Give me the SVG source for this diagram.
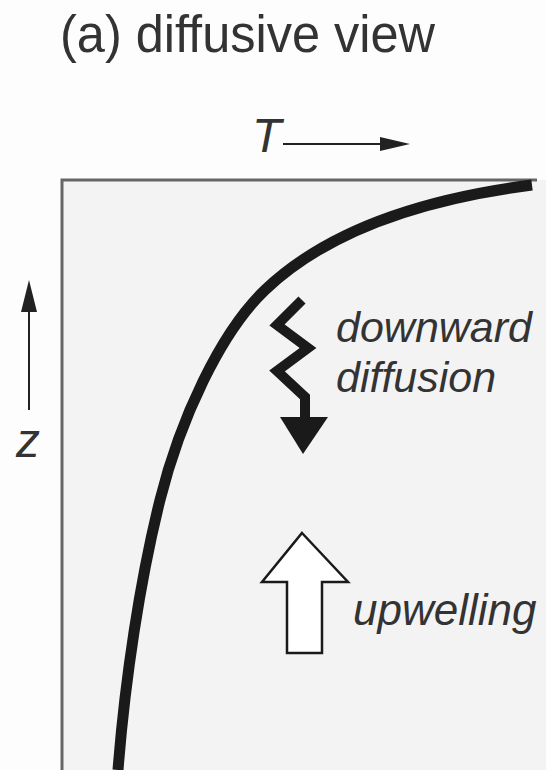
<svg xmlns="http://www.w3.org/2000/svg" width="546" height="770" viewBox="0 0 546 770">
<style>
.lbl{font-family:"Liberation Sans",Arial,sans-serif;fill:#333;}
.it{font-style:italic;}
.frame{stroke:#666;stroke-width:3;fill:none;}
</style>
<rect width="546" height="770" fill="#fdfdfd"/>
<g id="frame">
<rect x="62" y="180" width="490" height="600" fill="#f3f3f3"/>
<path class="frame" d="M62,780 L62,180 L537,180"/>
</g>
<g id="title"><text class="lbl" x="60" y="52" font-size="51" fill="#444" textLength="375" lengthAdjust="spacingAndGlyphs">(a) diffusive view</text></g>
<g id="axis-T">
<text class="lbl it" x="252" y="152" font-size="48">T</text>
</g>
<g id="axis-z">
<text class="lbl it" x="16" y="457" font-size="48">z</text>
</g>
<g id="profile">
<path d="M532,185 C430,198 330,228 265,290 C220,333 180,420 160,500 C140,580 125,680 118,770" fill="none" stroke="#1a1a1a" stroke-width="11"/>
</g>
<g id="diffusion">
<polyline points="302,300 277,325 308,348 277,371 305,397 305,420" fill="none" stroke="#1a1a1a" stroke-width="10" stroke-linejoin="miter"/>
<polygon points="280,417 328,417 303,454" fill="#1a1a1a"/>
<text class="lbl it" x="336" y="342" font-size="43">downward</text>
<text class="lbl it" x="336" y="392" font-size="43">diffusion</text>
</g>
<g id="upwelling">
<polygon points="302,533 348,582 322,582 322,653 287,653 287,582 262,582" fill="#ffffff" stroke="#1a1a1a" stroke-width="2.5" stroke-linejoin="miter"/>
<text class="lbl it" x="353" y="625" font-size="44">upwelling</text>
</g>
<g id="connectors">
<line x1="283" y1="144" x2="400" y2="144" stroke="#222" stroke-width="2"/>
<polygon points="380,137 410,144 380,151" fill="#222"/>
<line x1="29" y1="410" x2="29" y2="300" stroke="#222" stroke-width="2"/>
<polygon points="21,312 29,280 37,312" fill="#222"/>
</g>
</svg>
